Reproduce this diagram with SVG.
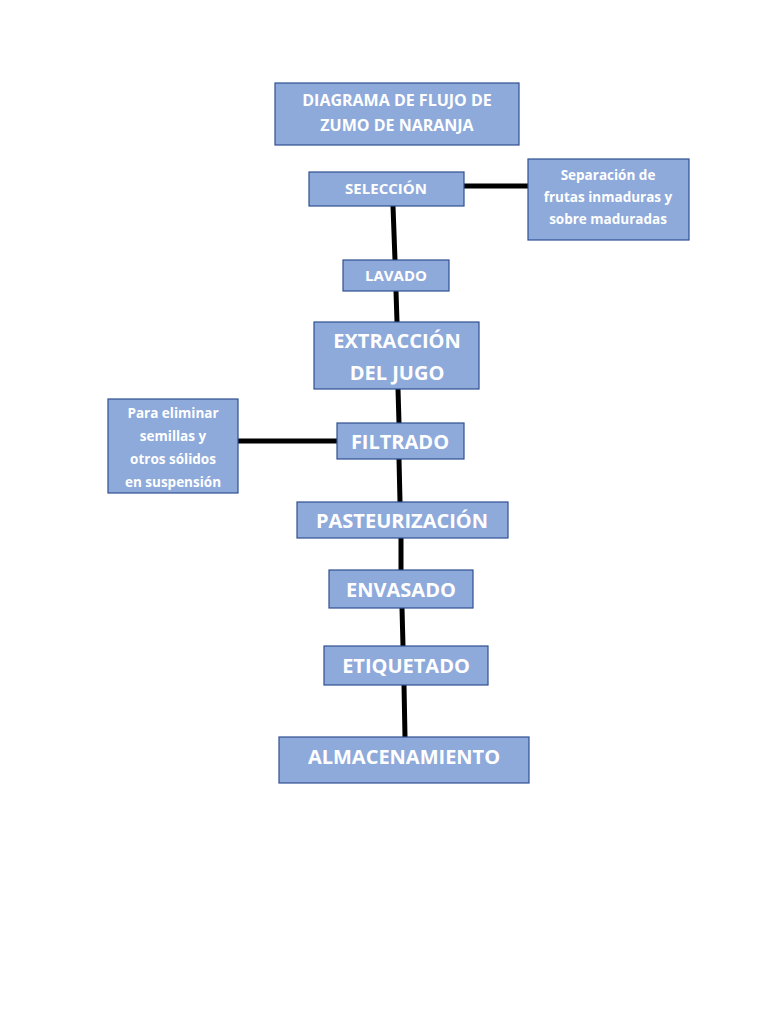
<svg xmlns="http://www.w3.org/2000/svg" width="768" height="1024" viewBox="0 0 768 1024">
<style>
.b{fill:#8eaadb;stroke:#2f4f8f;stroke-width:1.2}
.t{fill:#fff;font-family:"Open Sans","Liberation Sans",sans-serif;font-weight:bold;text-anchor:middle}
.c{stroke:#000;stroke-width:5;fill:none}
</style>
<rect width="768" height="1024" fill="#fff"/>
<g id="connectors">
<path class="c" d="M393 206L395 260M396 291L397 322M398 389L399 423M399 459L400 502M401 538L401 570M402 608L403 646M404 685L405 737M464 186H528M238 441H337"/>
</g>
<g id="title"><rect class="b" x="275" y="83" width="244" height="62"/><text class="t" font-size="16" x="397" y="106">DIAGRAMA DE FLUJO DE</text><text class="t" font-size="16" x="397" y="131">ZUMO DE NARANJA</text></g>
<g id="seleccion"><rect class="b" x="309" y="172" width="155" height="34"/><text class="t" font-size="15" x="386" y="194">SELECCIÓN</text></g>
<g id="separacion"><rect class="b" x="528" y="159" width="161" height="81"/><text class="t" font-size="13.5" x="608" y="180">Separación de</text><text class="t" font-size="13.5" x="608" y="202">frutas inmaduras y</text><text class="t" font-size="13.5" x="608" y="224">sobre maduradas</text></g>
<g id="lavado"><rect class="b" x="343" y="260" width="106" height="31"/><text class="t" font-size="15" x="396" y="281">LAVADO</text></g>
<g id="extraccion"><rect class="b" x="314" y="322" width="165" height="67"/><text class="t" font-size="20" x="397" y="348">EXTRACCIÓN</text><text class="t" font-size="20" x="397" y="380">DEL JUGO</text></g>
<g id="filtrado"><rect class="b" x="337" y="423" width="127" height="36"/><text class="t" font-size="20" x="400" y="449">FILTRADO</text></g>
<g id="eliminar"><rect class="b" x="108" y="399" width="130" height="94"/><text class="t" font-size="13.5" x="173" y="418">Para eliminar</text><text class="t" font-size="13.5" x="173" y="441">semillas y</text><text class="t" font-size="13.5" x="173" y="464">otros sólidos</text><text class="t" font-size="13.5" x="173" y="487">en suspensión</text></g>
<g id="pasteurizacion"><rect class="b" x="297" y="502" width="211" height="36"/><text class="t" font-size="20" x="402" y="528">PASTEURIZACIÓN</text></g>
<g id="envasado"><rect class="b" x="329" y="570" width="144" height="38"/><text class="t" font-size="20" x="401" y="597">ENVASADO</text></g>
<g id="etiquetado"><rect class="b" x="324" y="646" width="164" height="39"/><text class="t" font-size="20" x="406" y="673">ETIQUETADO</text></g>
<g id="almacenamiento"><rect class="b" x="279" y="737" width="250" height="46"/><text class="t" font-size="20" x="404" y="764">ALMACENAMIENTO</text></g>
</svg>
